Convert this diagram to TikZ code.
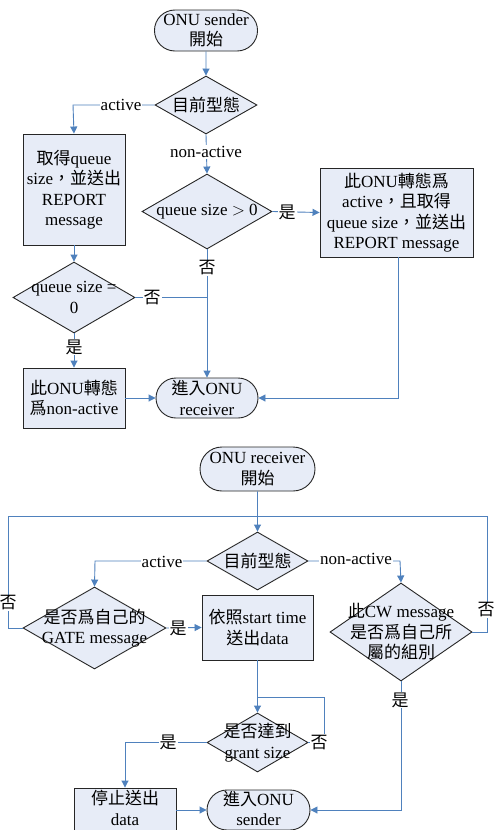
\documentclass[tikz,border=0pt]{standalone}
\usepackage{fontspec}
\setmainfont{Liberation Serif}
\newfontfamily\zhfont{Noto Sans CJK TC}
\newcommand\zh[1]{{\zhfont #1}}
\usetikzlibrary{shapes.geometric,shapes.misc,arrows.meta}
\definecolor{lineblue}{RGB}{79,129,189}
\definecolor{nodefill}{RGB}{231,236,247}
\tikzset{
  flow/.style={draw=lineblue, line width=0.9pt},
  arr/.style={flow, -{Triangle[width=7pt,length=7pt]}},
  procbox/.style={rectangle, draw=black!85, fill=nodefill, line width=0.9pt,
    align=center, inner sep=0pt},
  term/.style={rounded rectangle, draw=black!85, fill=nodefill, line width=0.9pt,
    align=center, inner sep=0pt},
  dia/.style={diamond, draw=black!85, fill=nodefill, line width=0.9pt, inner sep=0pt},
  txt/.style={align=center, inner sep=0pt},
  lbl/.style={fill=white, inner sep=1pt},
}
\begin{document}
\begin{tikzpicture}[x=1pt, y=-1pt, font=\fontsize{17}{20.5}\selectfont]
\clip (0,0) rectangle (495,830);
\fill[white] (0,0) rectangle (495,830);

% ---------------- ONU sender ----------------
\node[term, minimum width=100pt, minimum height=41pt] (s1) at (206,30.5) {ONU sender\\\zh{開始}};
\node[dia, minimum width=102pt, minimum height=58pt] (d1) at (206,105) {};
\node[txt] (d1t) at (d1) {\zh{目前型態}};
\node[procbox, minimum width=102pt, minimum height=111pt] (b1) at (74,189.5)
  {\zh{取得}queue\\size\zh{，並送出}\\REPORT\\message};
\node[dia, minimum width=130pt, minimum height=75pt] (d2) at (207,211.5) {};
\node[txt] (d2t) at (d2) {queue size $>$ 0};
\node[procbox, minimum width=153pt, minimum height=89pt] (b2) at (396.5,212.5)
  {\zh{此}ONU\zh{轉態爲}\\active\zh{，且取得}\\queue size\zh{，並送出}\\REPORT message};
\node[dia, minimum width=122pt, minimum height=71pt] (d3) at (74,297.5) {};
\node[txt] (d3t) at (d3) {queue size =\\0};
\node[procbox, minimum width=102pt, minimum height=60pt] (b3) at (74,398)
  {\zh{此}ONU\zh{轉態}\\\zh{爲}non-active};
\node[term, minimum width=102pt, minimum height=40pt] (t1) at (207,398) {\zh{進入}ONU\\receiver};

\coordinate (c1) at (73,105);
\coordinate (c2) at (207,297.5);
\coordinate (c3) at (398,398);

\draw[arr] (s1) -- (d1);
\draw[arr] (d1.west) -- (c1) -- (b1.north);
\node[lbl] (l1) at (121,105) {active};
\draw[arr] (d1.south) -- (d2.north);
\node[lbl] (l2) at (206,152) {non-active};
\draw[arr] (d2.east) -- (b2.west);
\node[lbl] (l3) at (287,212) {\zh{是}};
\draw[arr] (d2.south) -- (t1.north);
\node[lbl] (l4) at (207,268) {\zh{否}};
\draw[arr] (b1.south) -- (d3.north);
\draw[flow] (d3.east) -- (c2);
\node[lbl] (l5) at (152,297.5) {\zh{否}};
\draw[arr] (d3.south) -- (b3.north);
\node[lbl] (l6) at (74,347) {\zh{是}};
\draw[arr] (b3.east) -- (t1.west);
\draw[arr] (b2.south -| c3) -- (c3) -- (t1.east);

% ---------------- ONU receiver ----------------
\node[term, minimum width=115pt, minimum height=44pt] (s2) at (257.5,469) {ONU receiver\\\zh{開始}};
\node[dia, minimum width=101pt, minimum height=58pt] (d4) at (257.5,561) {};
\node[txt] (d4t) at (d4) {\zh{目前型態}};
\node[dia, minimum width=143pt, minimum height=82pt] (d5) at (94.5,628) {};
\node[txt] (d5t) at (d5) {\zh{是否爲自己的}\\GATE message};
\node[dia, minimum width=142pt, minimum height=98pt] (d6) at (401,632) {};
\node[txt] (d6t) at (d6) {\zh{此}CW message\\\zh{是否爲自己所}\\\zh{屬的組別}};
\node[procbox, minimum width=111pt, minimum height=65pt] (b4) at (257.5,627.5)
  {\zh{依照}start time\\\zh{送出}data};
\node[dia, minimum width=101pt, minimum height=59pt] (d7) at (257.5,742.5) {};
\node[txt] (d7t) at (d7) {\zh{是否達到}\\grant size};
\node[procbox, minimum width=102pt, minimum height=48pt] (b5) at (125,812) {};
\node[txt] (b5t) at (125,808) {\zh{停止送出}\\data};
\node[term, minimum width=103pt, minimum height=40pt] (t2) at (258.5,810) {};
\node[txt] (t2t) at (258.5,808.5) {\zh{進入}ONU\\sender};

\coordinate (r1) at (8,628);
\coordinate (r2) at (8,516);
\coordinate (r3) at (257.5,516);
\coordinate (r4) at (487,632);
\coordinate (r5) at (487,516);
\coordinate (r6) at (95,561);
\coordinate (r7) at (400,561);
\coordinate (r8) at (324,742.5);
\coordinate (r9) at (324,697);
\coordinate (r10) at (257.5,697);
\coordinate (r11) at (125,742.5);
\coordinate (r12) at (401,810);

\draw[arr] (s2) -- (d4);
\draw[flow] (d5.west) -- (r1) -- (r2) -- (r3);
\node[lbl] (m1) at (8,603) {\zh{否}};
\draw[flow] (d6.east) -- (r4) -- (r5) -- (r3);
\node[lbl] (m2) at (486,610) {\zh{否}};
\draw[arr] (d4.west) -- (r6) -- (d5.north);
\node[lbl] (m3) at (162,562) {active};
\draw[arr] (d4.east) -- (r7) -- (d6.north);
\node[lbl] (m4) at (356,559) {non-active};
\draw[arr] (d5.east) -- (b4.west);
\node[lbl] (m5) at (178,628) {\zh{是}};
\draw[arr] (b4.south) -- (d7.north);
\draw[flow] (d7.east) -- (r8) -- (r9) -- (r10);
\node[lbl] (m6) at (319,742.5) {\zh{否}};
\draw[arr] (d7.west) -- (r11) -- (b5.north);
\node[lbl] (m7) at (168,742.5) {\zh{是}};
\draw[arr] (b5.east |- t2) -- (t2.west);
\draw[arr] (d6.south) -- (r12) -- (t2.east);
\node[lbl] (m8) at (400,700) {\zh{是}};
\end{tikzpicture}
\end{document}
